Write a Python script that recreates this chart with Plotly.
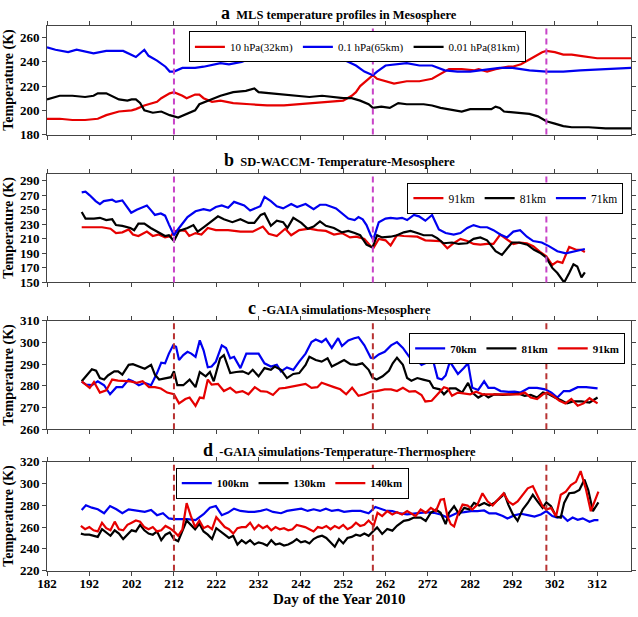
import plotly.graph_objects as go

# ---------------- Panel a : MLS ----------------
a_red_day = [182,185,188,191,194,196,199,202,203,205,208,209,211,212,214,215,217,218,219,221,223,226,230,234,238,242,246,249,252,254,255,256,258,259,260,262,264,267,270,273,275,277,280,283,284,286,288,291,292,294,296,299,300,302,304,306,308,310,312,316,318,320]
a_red_val = [193,193,192,192,193,196,199,200,201,204,207,210,214,215,212,210,213,213,210,207,208,206,205,204,204,205,206,207,208,212,215,220,226,229,226,224,222,224,224,226,230,234,234,233,234,232,234,236,236,238,242,248,249,248,246,246,245,244,243,243,243,243]

a_blue_day = [182,184,187,189,193,196,200,202,203,205,206,208,210,211,212,214,217,219,223,225,228,231,233,236,240,244,247,250,252,255,257,259,260,262,265,267,270,273,276,279,282,286,289,292,296,300,304,308,313,318,320]
a_blue_val = [252,250,248,250,247,249,249,246,244,250,245,241,236,232,232,235,235,236,239,238,240,244,245,243,242,244,244,243,242,237,232,229,232,237,238,239,237,237,233,232,232,234,235,235,233,232,232,233,234,235,235]

a_black_day = [182,185,188,191,193,194,196,198,199,201,202,203,204,205,207,209,211,213,215,217,218,220,223,226,229,231,232,235,238,241,244,247,249,252,254,256,258,259,261,263,265,267,271,273,275,278,280,282,285,287,288,289,290,293,296,298,300,302,304,306,310,314,317,320]
a_black_val = [209,212,212,211,212,214,214,211,209,208,209,209,206,200,198,199,196,194,197,200,205,208,212,215,216,218,215,214,213,212,211,212,211,210,210,208,205,202,203,202,206,205,205,204,202,200,199,201,201,201,203,202,199,198,197,195,191,189,187,186,186,185,185,185]

# ---------------- Panel b : SD-WACCM ----------------
b_blue_day = [190.2,191.1,192.1,193.5,194.5,195.4,197.4,198.3,199.8,200.8,201.9,203.2,204.6,205.6,206.5,207.5,208.9,209.9,210.8,212,213.2,215.2,217.1,219,220.5,221.9,223.3,224.8,226.2,228.6,230,231.5,232.4,233.4,234.9,236.3,237.8,239.7,241.1,243.1,245,246.5,247.9,250.3,251.8,253.2,254.7,255.6,256.6,257.5,258.5,259.1,260.4,262,263.2,264.7,265.9,267.1,268.7,269.9,271.4,273,274.6,276.2,278.1,279.7,281.3,282.8,284.4,286,287.5,289.1,290.7,292.2,293.8,295.4,296.9,298.9,300.6,302.6,304.6,306.2,307.8,309.1]
b_blue_val = [274,275,270,262,258,262,264,261,263,255,246,250,254,256,250,243,245,242,230,215,225,240,248,251,249,254,256,253,261,256,249,253,255,268,262,255,252,258,254,258,251,257,257,252,245,238,236,240,237,229,215,209,233,238,239,238,239,236,243,241,235,243,223,218,216,218,225,229,226,226,222,216,212,220,222,213,207,205,200,193,190,192,195,196]

b_black_day = [190.2,191.1,193.1,194.5,196,197.4,198.3,199.8,201.7,202.6,203.6,205,206.5,208,208.9,209.9,210.8,212,213.2,215.2,216.6,217.6,219,220.9,222.4,223.8,225.8,227.7,229.6,231,232.5,233.4,234.9,236.3,237.8,238.8,240.2,242.1,243.6,245,246.5,247.9,249.8,251.7,253.2,254.7,256,257.5,258.9,260,261.2,263.2,264.7,266.3,267.9,269.5,271,273,274.2,275.7,277.7,279.3,281.3,282.8,284.4,286,288,289.5,290.7,291.9,293.5,295.5,297.1,298.7,300,301.4,302.6,304.2,305.4,306.4,307.3,308.3,309.1]
b_black_val = [247,238,238,239,236,237,229,228,225,222,231,231,225,220,218,214,215,207,221,225,229,220,226,234,241,237,233,237,232,232,243,245,228,235,233,225,239,232,224,227,234,228,225,219,221,218,215,202,198,215,212,213,215,219,221,218,215,215,211,204,205,203,204,210,212,208,193,188,197,205,205,202,195,190,184,170,163,150,163,175,172,157,164]

b_red_day = [190.2,195,197,198.3,199.8,201.3,202.3,203.6,205.6,207,208.4,209.9,211.3,212,213.2,214.7,215.6,217.1,218.5,220,221.9,224.8,227.7,230.6,233,234.4,236.3,238.3,239.7,241.6,244,245.9,247.9,249.8,251.7,253.6,255.1,257,258.5,259.2,260.4,262,263.2,264.7,266.3,268.3,269.5,271.4,273.4,275,276.6,278.1,279.7,281.3,282.8,284.4,286,287.5,289.1,290.7,292.2,293.8,295.4,296.9,298.5,300,301.4,302.6,303.8,305.4,307,308.2,309.1]
b_red_val = [226,226,224,218,219,223,216,214,220,214,216,212,214,220,222,221,214,218,216,225,222,222,220,220,227,217,214,224,215,222,224,222,221,216,218,212,213,210,200,198,210,208,201,215,214,213,213,208,207,207,197,204,210,207,203,202,203,203,216,209,203,205,204,200,192,186,174,179,177,199,195,195,192]

# ---------------- Panel c : GAIA mesosphere ----------------
c_blue_day = [190.2,191.2,192.6,194,195.5,196.9,198.4,199.8,201.3,202.3,203.7,205.1,206.6,208,209,209.9,210.8,211.8,212.5,213.2,214.2,215.2,216.1,217.1,218.1,219,220,220.9,221.9,223.3,224.3,225.3,226.2,227.7,229.1,230.6,232,233.4,234.9,236.3,237.3,238.7,240.2,241.6,243.1,244.5,245.5,246.9,247.9,249.3,250.8,251.7,253.2,254.6,255.6,257,258.5,259.2,260.4,261.8,263.3,264.7,266.1,267.6,269,270.5,271.9,273.3,274.3,275.3,276.2,277.2,278.1,279.1,280.5,281.5,282.5,283.9,285.3,286.3,287.7,289.2,291.1,292.5,293.9,295.9,297.8,299.7,301.2,302.6,304.1,305.5,307.4,309.4,312.1]
c_blue_val = [282,280.6,280.3,282.1,280.3,276.1,279.4,279.4,282.9,282.1,280.3,281.4,280.3,285.9,290.7,290.4,294.9,298.7,298,291.9,294.2,295.7,294.9,293.4,301,296.4,288.6,288.9,291.2,298.7,297.5,292.7,293.4,288.2,294.9,294.9,294.9,290.4,288.9,289.7,286.7,288.5,287.4,291.2,294.9,300.2,301.4,300.2,301.7,297.5,302,298.4,301,302,302.5,298.7,293,292.7,294.5,295.7,298.7,300.2,297.5,293.4,292.7,289.7,290.9,291.2,283.6,282.9,284.8,291.2,288.2,285.5,288.2,290.4,279.1,278.1,282.1,279.1,279.1,277.6,277.2,277.3,276.9,279.1,279.1,278.4,276.9,274.6,277.6,277.6,279.4,279.4,278.8]

c_black_day = [190.2,191.6,192.6,193.6,194.5,195.5,196.4,197.9,198.8,199.8,201.3,202.3,203.7,205.1,206.6,207.5,208.5,209.9,211.3,212,212.8,214.2,215.7,217.1,218.1,219.5,220.5,221.4,222.9,223.8,225.3,226.7,228.2,229.6,230.6,232,233.4,234.9,235.8,237.3,238.7,240.2,241.6,243.1,244,245.5,246.9,248.3,249.3,250.8,252.2,253.7,255.1,256.5,258,258.9,259.9,261.3,262.8,263.7,264.7,266.1,267.1,268.1,269.5,270.9,272.4,273.3,274.8,275.8,277.2,278.6,280.1,281.5,282.5,283.9,285.3,286.3,287.7,289.7,291.6,293.5,294.9,296.3,297.8,299.2,300.6,302,303.5,304.9,306.3,308.3,310.2,312.1]
c_black_val = [282.1,285.2,287.7,287,283.6,282.9,284.8,286.7,286.7,285.2,289.7,290,288.9,287.9,289.7,285.2,282.9,283.3,284,286.7,280.3,280.3,282.9,279.4,286.4,284.4,286.4,282.1,292.7,294.2,285.9,286.4,286.7,285.5,287.4,284.4,288.2,287.4,288.9,287.4,283.6,285.5,285.9,289.7,293.4,291.9,291.2,292.7,288.9,290.4,291.9,290,289.7,290.4,287.4,283.9,282.9,284.4,287,290.4,293,289.7,283.6,282.4,283.6,282.9,282.1,279.1,278.4,276.1,278.8,278.8,276.9,281.4,276.9,274.6,276.1,274.6,276.1,275.8,276.1,276.4,275.4,275.8,274.6,276.9,276.1,274.6,273.4,271.9,272.8,272.8,272.3,274.6]

c_red_day = [190.2,191.2,192.1,193.1,194.5,196,197.4,198.8,200.3,201.7,203.2,204.6,206.1,207.5,208.9,210.4,212,213.2,214.7,215.7,217.1,218.1,219,220,220.9,222.4,223.8,225.3,226.7,228.2,229.6,231.1,232.5,234,235.4,236.9,238.3,240.2,241.6,243.1,244.5,245.9,246.9,248.3,249.8,251.3,252.7,254.1,255.6,257,258.5,259.9,261.8,263.3,264.7,266.1,267.6,269,270.5,271.4,272.9,274.3,275.8,276.7,277.7,279.1,280.5,282,283.4,284.9,286.3,287.7,289.2,290.6,292,293.5,294.9,296.3,297.8,299.2,300.2,301.6,303.1,304.5,305.9,307.4,308.8,310.2,312.1]
c_red_val = [282.1,280.6,279.1,281.8,276.9,277.9,282.9,282.4,282.1,282.1,281.4,282.1,279.4,279.4,278.8,276.9,276.1,271.9,273.9,274.6,270.8,274.6,274.3,282.9,280.6,280.9,277.6,279.1,276.9,277.6,276.1,279.4,277.6,277.3,275.8,278.8,279.1,279.9,280.3,280.9,279.1,279.4,281.4,280.3,279.4,278.4,276.1,279.1,275.4,276.1,277.3,277.6,278.4,278.4,277.6,279.1,277.3,277.6,275.8,272.8,273.1,276.1,279.4,278.8,275.4,276.9,276.4,276.1,277.3,276.1,276.1,276.1,275.8,276.1,275.8,276.1,276.9,274.6,273.9,276.1,276.9,275.4,273.1,271.9,273.9,270.8,271.9,274.3,271.9]

# ---------------- Panel d : GAIA thermosphere ----------------
d_blue_day = [190.2,191.2,192.6,194,195.5,196.9,198.4,199.8,201.3,203.2,205.1,206.6,208,209.4,210.8,212,213.7,215.2,217.1,219,220.5,221.9,223.3,224.8,226.2,227.7,229.6,231,232.5,233.9,235.4,237.3,238.7,240.2,242.1,243.6,245,246.5,247.9,249.3,250.8,252.2,254.1,256.1,258,259.6,260.4,262,263.6,265.5,267.1,268.7,270.3,271.9,273.4,275,276.6,277.8,279,280.6,282.2,283.7,285.3,286.5,288.1,289.7,290.8,292.4,294,295.6,297.2,298.7,300,301.4,302.6,303.8,305,306.2,307.4,308.6,310.2,311.3,312.3]
d_blue_val = [275.7,280,277.8,276.3,272.7,279.3,276.3,272.7,276.3,274.8,273.9,275.7,270.9,272.7,267.9,267.3,267.3,267.3,266.4,271.8,277.8,279.3,270.9,273.3,276.9,274.8,273.9,273.9,274.8,276.3,273.9,272.7,274.8,275.7,276.9,274.8,276.3,274.8,276.9,274.8,275.7,273.9,274.8,274.8,272.7,278.5,277.6,275.2,274.6,272.5,271.6,272.2,273.1,273.7,273.1,271.6,268.7,270.7,273.1,273.7,274.6,274.6,275.2,272.5,272.5,270.1,267.8,270.7,272.2,271,269.6,271.6,274.6,270.1,268.7,270.1,265.7,268.7,266.6,268,264.8,266.3,266.3]

d_black_day = [190,191,192,193,194,195,196,197,198,199,200,201,202,203,204,205,206,207,208,209,210,211,212,213,214,215,216,217,218,219,220,221,222,223,224,225,226,227,228,229,230,231,232,233,234,235,236,237,238,239,240,241,242,243,244,245,246,247,248,249,250,251,252,253,254,255,256,257,258,259.2,260,261.2,262.4,263.6,264.7,266.3,267.5,268.7,270.3,271.5,272.7,273.9,275,276.2,277,278.2,279.4,280.6,281.8,282.9,284.1,285.3,286.5,287.7,288.9,290.1,291,292.1,293.2,294.4,295.6,296.8,297.9,299.1,300,301.1,302.3,303.4,304.2,305.4,306.6,307.8,309,309.9,311,312.3]
d_black_val = [254,253,253,252,251,258,255,252,257,254,249,253,257,256,262,257,254,253,256,248,253,255,249,247,256,266,262,258,263,256,253,249,259,256,253,250,252,244,248,245,248,244,246,245,243,248,244,245,243,244,246,249,246,247,245,249,251,252,250,246,242,249,245,250,251,253,252,254,252,256.7,259.7,253.7,258.2,256.7,261.2,265.7,266.6,268.7,268.7,265.7,273.1,276.1,273.1,262.7,273.1,279.1,271.6,277.6,276.1,282.1,279.7,282.1,279.7,282.1,286.6,290.4,280.6,271.6,265.7,276.1,282.1,289.6,283.6,277.6,282.7,279.1,269.6,268.7,282.1,291,291.6,294,303.6,294,274.6,282.7]

d_red_day = [190,191,192,193,194,195,196,197,198,199,200,201,202,203,204,205,206,207,208,209,210,211,212,213,214,215,216,217,218,219,220,221,222,223,224,225,226,227,228,229,230,231,232,233,234,235,236,237,238,239,240,241,242,243,244,245,246,247,248,249,250,251,252,253,254,255,256,257,258,259.2,260.1,261.2,262.4,263.6,264.7,265.9,267.1,267.9,269.1,270.3,271.5,272.7,273.9,275,275.8,276.6,277.4,278.2,279.1,280.2,281.4,282.5,283.7,284.9,286.1,287.3,288.5,289.9,291,292.1,293.2,294.4,295.6,296.8,297.9,299.1,300,301.1,302.3,303.4,304.6,305.8,307,308.1,309.3,310.5,312.3]
d_red_val = [261,258,260,257,256,264,259,257,265,258,257,262,264,266,265,260,258,260,256,257,261,259,256,252,258,282,270,260,266,259,261,258,269,264,260,258,254,259,260,260,264,258,262,259,261,257,260,258,259,257,258,262,261,260,258,256,260,259,261,258,261,259,262,258,260,264,261,262,266,261.2,273.1,270.1,274.6,271.6,273.7,271.6,274.6,272.5,270.1,276.1,273.1,277.6,274.6,285.1,285.7,270.1,262.7,260.6,271.6,280.6,279.7,276.1,280.6,291,283.6,279.7,285.1,291,283.6,280.6,283.6,289.6,295.5,297.6,288.1,279.1,276.1,277.6,270.1,289.6,292.5,298.5,301.5,311.3,295.5,274.6,292.5]

event_days = [212, 259, 300]
x_ticks = [182, 192, 202, 212, 222, 232, 242, 252, 262, 272, 282, 292, 302, 312]

RED = "#e60000"
BLUE = "#0000f0"
BLACK = "#000000"
SERIF = "Liberation Serif"

H = 617.0
def dom(top, bottom):
    return [1 - bottom / H, 1 - top / H]

panels = [
    dict(dom=dom(19, 130.7), yr=[180, 270], yt=[180, 200, 220, 240, 260], vcol="#c844c8",
         series=[("10 hPa(32km)", a_red_day, a_red_val, RED),
                 ("0.1 hPa(65km)", a_blue_day, a_blue_val, BLUE),
                 ("0.01 hPa(81km)", a_black_day, a_black_val, BLACK)]),
    dict(dom=dom(170.7, 282.3), yr=[150, 300], yt=[150, 170, 190, 210, 230, 250, 270, 290], vcol="#c844c8",
         series=[("91km", b_red_day, b_red_val, RED),
                 ("81km", b_black_day, b_black_val, BLACK),
                 ("71km", b_blue_day, b_blue_val, BLUE)]),
    dict(dom=dom(321.7, 432.7), yr=[260, 310], yt=[260, 270, 280, 290, 300, 310], vcol="#b83232",
         series=[("70km", c_blue_day, c_blue_val, BLUE),
                 ("81km", c_black_day, c_black_val, BLACK),
                 ("91km", c_red_day, c_red_val, RED)]),
    dict(dom=dom(466, 577.7), yr=[220, 320], yt=[220, 240, 260, 280, 300, 320], vcol="#b83232",
         series=[("100km", d_blue_day, d_blue_val, BLUE),
                 ("130km", d_black_day, d_black_val, BLACK),
                 ("140km", d_red_day, d_red_val, RED)]),
]

fig = go.Figure()
legend_names = ["legend", "legend2", "legend3", "legend4"]
shapes = []
layout = {}
for i, p in enumerate(panels):
    sfx = "" if i == 0 else str(i + 1)
    xref = "x" + sfx
    yref = "y" + sfx
    for name, xs, ys, col in p["series"]:
        fig.add_trace(go.Scatter(x=xs, y=ys, mode="lines", name=name,
                                 line=dict(color=col, width=2.2),
                                 xaxis=xref, yaxis=yref, legend=legend_names[i]))
    layout["xaxis" + sfx] = dict(
        domain=[0, 1], range=[182, 320], anchor=yref, tickvals=x_ticks,
        showticklabels=(i == 3), ticks="outside", ticklen=4, tickcolor="#444",
        ticklabelstandoff=-3,
        showline=True, linecolor="#444", linewidth=1, mirror="ticks", showgrid=False, zeroline=False,
        tickfont=dict(family=SERIF, size=13, color="black", weight="bold"))
    layout["yaxis" + sfx] = dict(
        domain=p["dom"], range=p["yr"], anchor=xref, tickvals=p["yt"],
        ticks="outside", ticklen=4, tickcolor="#444",
        showline=True, linecolor="#444", linewidth=1, mirror="ticks", showgrid=False, zeroline=False,
        tickfont=dict(family=SERIF, size=13, color="black", weight="bold"))
    for d in event_days:
        shapes.append(dict(type="line", xref=xref, yref=yref + " domain", x0=d, x1=d, y0=0, y1=1,
                           line=dict(color=p["vcol"], width=2, dash="6px,4px")))

fig.update_layout(**layout)

leg_common = dict(orientation="h", bordercolor="black", borderwidth=1, bgcolor="white",
                  yanchor="top", itemwidth=30, tracegroupgap=0)
fig.update_layout(
    legend=dict(x=0.243, y=1 - 25 / H, xanchor="left",
                font=dict(family=SERIF, size=11, color="black"), **leg_common),
    legend2=dict(x=0.987, y=1 - 180 / H, xanchor="right",
                 font=dict(family=SERIF, size=11.5, color="black"), **leg_common),
    legend3=dict(x=0.99, y=1 - 334 / H, xanchor="right",
                 font=dict(family=SERIF, size=11, color="black", weight="bold"), **leg_common),
    legend4=dict(x=0.2205, y=1 - 472 / H, xanchor="left",
                 font=dict(family=SERIF, size=11, color="black", weight="bold"), **leg_common),
)

titles = [
    ("a", "MLS temperature profiles in Mesosphere", 6),
    ("b", "SD-WACCM- Temperature-Mesosphere", 157),
    ("c", "-GAIA simulations-Mesosphere", 308),
    ("d", "-GAIA simulations-Temperature-Thermosphere", 454),
]
ann = []
for letter, txt, ypx in titles:
    ann.append(dict(xref="paper", yref="paper", x=0.5, y=1 - ypx / H, xanchor="center", yanchor="middle",
                    showarrow=False,
                    text="<b><span style='font-size:18px'>" + letter + "</span>  " + txt + "</b>",
                    font=dict(family=SERIF, size=12.5, color="black")))
for p in panels:
    yc = (p["dom"][0] + p["dom"][1]) / 2
    ann.append(dict(xref="paper", yref="paper", x=(9 - 47.3) / 583.7, y=yc, xanchor="center",
                    yanchor="middle", showarrow=False, textangle=-90,
                    text="<b>Temperature (K)</b>", font=dict(family=SERIF, size=14, color="black")))
ann.append(dict(xref="paper", yref="paper", x=0.5, y=1 - 607 / H, xanchor="center", yanchor="middle",
                showarrow=False, text="<b>Day of the Year 2010</b>",
                font=dict(family=SERIF, size=15, color="black")))

fig.update_layout(
    width=638, height=617, margin=dict(l=47, r=7, t=0, b=0),
    paper_bgcolor="white", plot_bgcolor="white",
    shapes=shapes, annotations=ann, showlegend=True, hovermode=False,
)
fig.write_html("out.html", config={"displayModeBar": False},
               post_script="document.body.style.margin='0px';document.body.style.overflow='hidden';")
